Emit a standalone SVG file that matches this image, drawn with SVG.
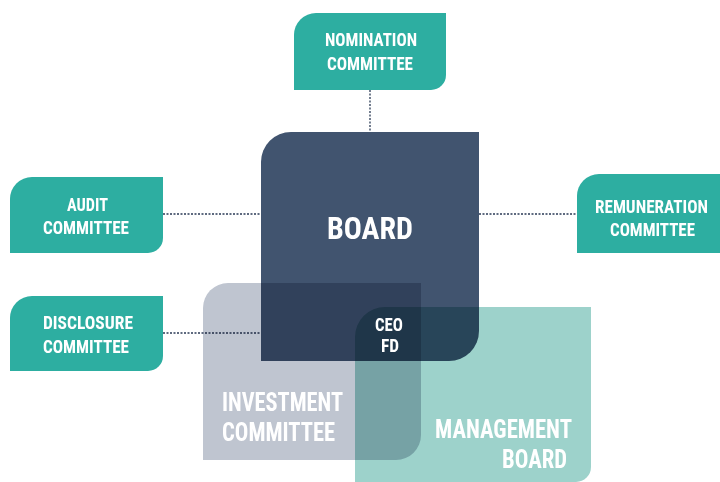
<svg xmlns="http://www.w3.org/2000/svg" width="720" height="482" viewBox="0 0 720 482">
<style>
.teal{fill:#2daea1}
.t{font-family:"Roboto Condensed","Liberation Sans Narrow","Roboto","Liberation Sans",sans-serif;font-weight:bold;fill:#ffffff;text-anchor:middle}
.s{font-size:17.5px}
.big{font-size:25.5px}
.conn{stroke:#2a3a55;stroke-width:1.3;stroke-dasharray:2 1.5;fill:none}
.mul{mix-blend-mode:multiply}
</style>
<rect width="720" height="482" fill="#ffffff"/>
<g id="connectors">
<line class="conn" x1="370" y1="90" x2="370" y2="132"/>
<line class="conn" x1="163" y1="214" x2="261" y2="214"/>
<line class="conn" x1="479" y1="214" x2="577" y2="214"/>
<line class="conn" x1="163" y1="333" x2="261" y2="333"/>
</g>
<g id="board">
<path d="M261,162 A30,30 0 0 1 291,132 H479 V331 A30,30 0 0 1 449,361 H261 Z" fill="#41546f"/>
</g>
<g id="investment" class="mul">
<path d="M203,308 A25,25 0 0 1 228,283 H421 V435 A25,25 0 0 1 396,460 H203 Z" fill="#bfc5d0"/>
</g>
<g id="management" class="mul">
<path d="M355,337 A30,30 0 0 1 385,307 H591 V467 A15,15 0 0 1 576,482 H355 Z" fill="#9dd2cb"/>
</g>
<g id="board-labels">
<text class="t" x="370" y="239" font-size="31" textLength="86" lengthAdjust="spacingAndGlyphs">BOARD</text>
<text class="t s" x="389" y="331" textLength="28" lengthAdjust="spacingAndGlyphs">CEO</text>
<text class="t s" x="390" y="352" textLength="18" lengthAdjust="spacingAndGlyphs">FD</text>
</g>
<g id="investment-labels">
<text class="t big" x="282.5" y="411" textLength="121" lengthAdjust="spacingAndGlyphs">INVESTMENT</text>
<text class="t big" x="278.5" y="441" textLength="113" lengthAdjust="spacingAndGlyphs">COMMITTEE</text>
</g>
<g id="management-labels">
<text class="t big" x="503.5" y="438" textLength="137" lengthAdjust="spacingAndGlyphs">MANAGEMENT</text>
<text class="t big" x="534.5" y="468" textLength="65" lengthAdjust="spacingAndGlyphs">BOARD</text>
</g>
<g id="nomination">
<path class="teal" d="M294,35 A22,22 0 0 1 316,13 H446 V75 A15,15 0 0 1 431,90 H294 Z"/>
<text class="t s" x="371" y="46" textLength="92" lengthAdjust="spacingAndGlyphs">NOMINATION</text>
<text class="t s" x="370" y="70" textLength="86" lengthAdjust="spacingAndGlyphs">COMMITTEE</text>
</g>
<g id="audit">
<path class="teal" d="M10,199 A22,22 0 0 1 32,177 H163 V238 A15,15 0 0 1 148,253 H10 Z"/>
<text class="t s" x="87.5" y="211" textLength="41" lengthAdjust="spacingAndGlyphs">AUDIT</text>
<text class="t s" x="86" y="234" textLength="86" lengthAdjust="spacingAndGlyphs">COMMITTEE</text>
</g>
<g id="disclosure">
<path class="teal" d="M10,318 A22,22 0 0 1 32,296 H163 V356 A15,15 0 0 1 148,371 H10 Z"/>
<text class="t s" x="88" y="329" textLength="90" lengthAdjust="spacingAndGlyphs">DISCLOSURE</text>
<text class="t s" x="86" y="353" textLength="86" lengthAdjust="spacingAndGlyphs">COMMITTEE</text>
</g>
<g id="remuneration">
<path class="teal" d="M577,196 A22,22 0 0 1 599,174 H720 V253 H577 Z"/>
<text class="t s" x="651.5" y="213" textLength="113" lengthAdjust="spacingAndGlyphs">REMUNERATION</text>
<text class="t s" x="652.5" y="236" textLength="85" lengthAdjust="spacingAndGlyphs">COMMITTEE</text>
</g>
</svg>
